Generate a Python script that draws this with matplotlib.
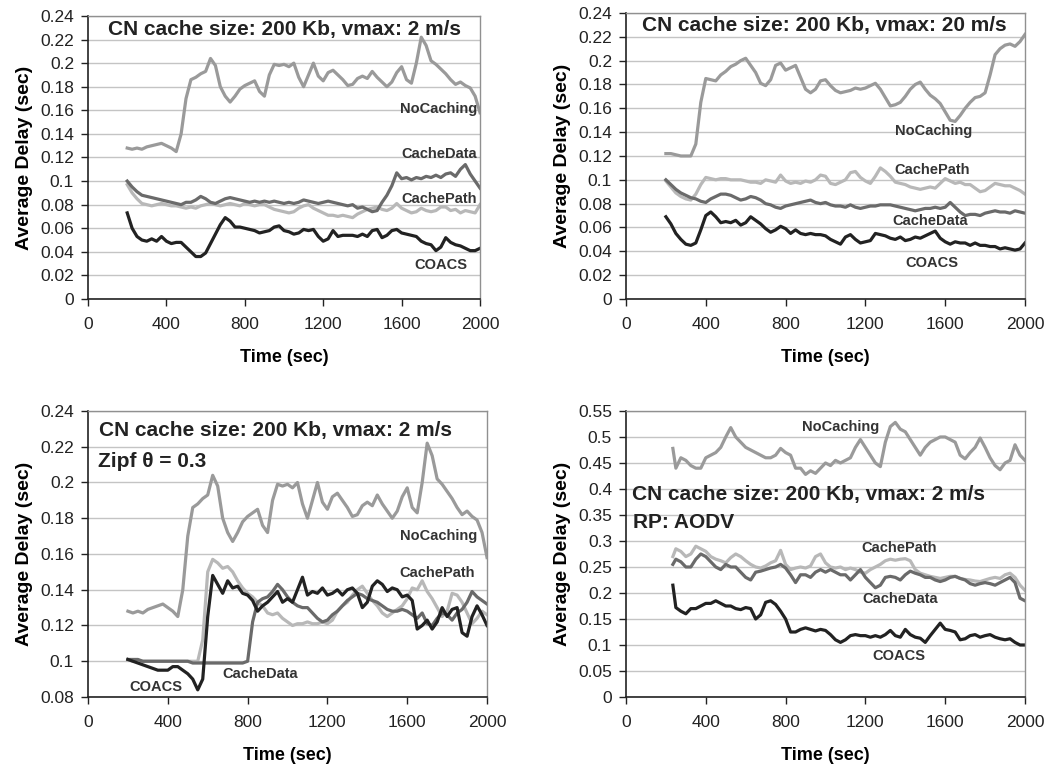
import numpy as np
import matplotlib
matplotlib.use("Agg")
import matplotlib.pyplot as plt
from matplotlib.ticker import FuncFormatter

plt.rcParams['font.family'] = ['Liberation Sans', 'DejaVu Sans']

# time grids (sec)
t_main = list(range(200, 2001, 25))
t_aodv = [235] + list(range(250, 2001, 25))

# ---- panel 1: vmax 2 m/s ----
p1_nocache = [0.128, 0.127, 0.128, 0.127, 0.129, 0.130, 0.131, 0.132,
              0.130, 0.128, 0.125, 0.140, 0.170, 0.186, 0.188, 0.191,
              0.193, 0.204, 0.198, 0.180, 0.172, 0.167, 0.172, 0.178,
              0.181, 0.183, 0.185, 0.176, 0.172, 0.190, 0.199, 0.198,
              0.199, 0.197, 0.200, 0.188, 0.180, 0.190, 0.200, 0.189,
              0.185, 0.192, 0.194, 0.190, 0.186, 0.181, 0.182, 0.187,
              0.189, 0.187, 0.193, 0.188, 0.184, 0.180, 0.184, 0.192,
              0.197, 0.186, 0.183, 0.200, 0.222, 0.215, 0.202, 0.199,
              0.195, 0.191, 0.186, 0.182, 0.184, 0.181, 0.179, 0.172,
              0.158]
p1_cachedata = [0.100, 0.095, 0.091, 0.088, 0.087, 0.086, 0.085, 0.084,
                0.083, 0.082, 0.081, 0.080, 0.082, 0.082, 0.084, 0.087,
                0.085, 0.082, 0.081, 0.083, 0.085, 0.086, 0.085, 0.084,
                0.083, 0.082, 0.083, 0.082, 0.083, 0.082, 0.083, 0.082,
                0.081, 0.082, 0.081, 0.082, 0.084, 0.083, 0.082, 0.081,
                0.082, 0.083, 0.082, 0.081, 0.080, 0.079, 0.080, 0.077,
                0.078, 0.076, 0.074, 0.075, 0.082, 0.088, 0.096, 0.107,
                0.102, 0.103, 0.101, 0.103, 0.102, 0.104, 0.103, 0.105,
                0.103, 0.106, 0.107, 0.104, 0.110, 0.114, 0.106, 0.100,
                0.094]
p1_cachepath = [0.097, 0.090, 0.085, 0.081, 0.080, 0.079, 0.080, 0.081,
                0.080, 0.079, 0.079, 0.078, 0.077, 0.078, 0.077, 0.079,
                0.080, 0.081, 0.080, 0.079, 0.080, 0.081, 0.080, 0.079,
                0.081, 0.080, 0.079, 0.080, 0.080, 0.078, 0.076, 0.075,
                0.074, 0.073, 0.074, 0.077, 0.079, 0.080, 0.077, 0.075,
                0.073, 0.071, 0.071, 0.070, 0.071, 0.070, 0.069, 0.072,
                0.074, 0.076, 0.077, 0.078, 0.076, 0.075, 0.077, 0.081,
                0.077, 0.075, 0.073, 0.074, 0.077, 0.075, 0.074, 0.075,
                0.078, 0.078, 0.075, 0.076, 0.073, 0.075, 0.074, 0.073,
                0.080]
p1_coacs = [0.073, 0.060, 0.053, 0.050, 0.049, 0.051, 0.049, 0.053,
            0.049, 0.047, 0.048, 0.048, 0.044, 0.040, 0.036, 0.036,
            0.039, 0.047, 0.055, 0.063, 0.069, 0.066, 0.061, 0.061,
            0.060, 0.059, 0.058, 0.056, 0.057, 0.058, 0.061, 0.062,
            0.058, 0.057, 0.055, 0.056, 0.059, 0.058, 0.059, 0.053,
            0.049, 0.051, 0.058, 0.053, 0.054, 0.054, 0.054, 0.053,
            0.055, 0.053, 0.058, 0.059, 0.052, 0.054, 0.058, 0.059,
            0.056, 0.055, 0.054, 0.053, 0.049, 0.047, 0.046, 0.041,
            0.044, 0.052, 0.048, 0.046, 0.045, 0.043, 0.041, 0.041,
            0.043]

# ---- panel 2: vmax 20 m/s ----
p2_nocache = [0.122, 0.122, 0.121, 0.120, 0.120, 0.120, 0.130, 0.165,
              0.185, 0.184, 0.183, 0.188, 0.191, 0.195, 0.197, 0.200,
              0.202, 0.196, 0.190, 0.181, 0.179, 0.184, 0.196, 0.198,
              0.192, 0.194, 0.196, 0.186, 0.176, 0.173, 0.176, 0.183,
              0.184, 0.179, 0.175, 0.173, 0.174, 0.175, 0.177, 0.176,
              0.177, 0.179, 0.181, 0.176, 0.169, 0.162, 0.163, 0.165,
              0.170, 0.176, 0.180, 0.182, 0.176, 0.171, 0.168, 0.164,
              0.157, 0.150, 0.149, 0.154, 0.160, 0.165, 0.169, 0.170,
              0.173, 0.188, 0.205, 0.210, 0.213, 0.214, 0.212, 0.216,
              0.222]
p2_cachepath = [0.099, 0.094, 0.089, 0.086, 0.084, 0.083, 0.088, 0.096,
                0.102, 0.101, 0.100, 0.101, 0.101, 0.100, 0.100, 0.100,
                0.099, 0.098, 0.098, 0.097, 0.100, 0.099, 0.098, 0.104,
                0.099, 0.097, 0.098, 0.097, 0.099, 0.098, 0.100, 0.104,
                0.103, 0.097, 0.096, 0.098, 0.100, 0.106, 0.107, 0.102,
                0.099, 0.097, 0.103, 0.110, 0.107, 0.103, 0.098, 0.097,
                0.096, 0.094, 0.093, 0.092, 0.093, 0.094, 0.093, 0.097,
                0.101, 0.099, 0.097, 0.098, 0.096, 0.096, 0.093, 0.090,
                0.091, 0.094, 0.097, 0.096, 0.095, 0.095, 0.093, 0.091,
                0.088]
p2_cachedata = [0.100, 0.096, 0.092, 0.089, 0.087, 0.085, 0.084, 0.082,
                0.081, 0.084, 0.086, 0.088, 0.088, 0.087, 0.085, 0.083,
                0.084, 0.086, 0.085, 0.083, 0.080, 0.079, 0.077, 0.076,
                0.078, 0.079, 0.080, 0.081, 0.082, 0.083, 0.081, 0.080,
                0.081, 0.079, 0.078, 0.078, 0.077, 0.079, 0.077, 0.076,
                0.077, 0.078, 0.078, 0.079, 0.079, 0.079, 0.078, 0.077,
                0.076, 0.075, 0.074, 0.075, 0.076, 0.076, 0.077, 0.076,
                0.077, 0.081, 0.077, 0.073, 0.070, 0.071, 0.071, 0.070,
                0.072, 0.073, 0.074, 0.073, 0.073, 0.072, 0.074, 0.073,
                0.072]
p2_coacs = [0.069, 0.063, 0.055, 0.050, 0.046, 0.045, 0.047, 0.058,
            0.070, 0.073, 0.069, 0.064, 0.065, 0.064, 0.066, 0.062,
            0.064, 0.069, 0.066, 0.063, 0.059, 0.056, 0.058, 0.061,
            0.059, 0.055, 0.058, 0.055, 0.054, 0.055, 0.054, 0.054,
            0.053, 0.050, 0.048, 0.046, 0.052, 0.054, 0.050, 0.047,
            0.048, 0.049, 0.055, 0.054, 0.053, 0.051, 0.050, 0.052,
            0.049, 0.050, 0.052, 0.051, 0.053, 0.055, 0.057, 0.051,
            0.048, 0.046, 0.048, 0.047, 0.047, 0.045, 0.047, 0.045,
            0.045, 0.044, 0.044, 0.042, 0.043, 0.042, 0.041, 0.042,
            0.047]

# ---- panel 3: Zipf theta = 0.3 ----
p3_nocache = p1_nocache
p3_cachepath = [0.101, 0.100, 0.100, 0.100, 0.100, 0.100, 0.100, 0.100,
                0.100, 0.100, 0.100, 0.100, 0.100, 0.100, 0.100, 0.112,
                0.150, 0.157, 0.155, 0.152, 0.153, 0.150, 0.145, 0.141,
                0.138, 0.136, 0.133, 0.131, 0.127, 0.126, 0.127, 0.124,
                0.122, 0.120, 0.121, 0.121, 0.122, 0.121, 0.121, 0.122,
                0.121, 0.123, 0.128, 0.131, 0.133, 0.137, 0.140, 0.142,
                0.138, 0.134, 0.131, 0.127, 0.125, 0.127, 0.129, 0.131,
                0.135, 0.141, 0.140, 0.145, 0.139, 0.135, 0.130, 0.125,
                0.128, 0.138, 0.137, 0.133, 0.127, 0.121, 0.124, 0.128,
                0.126]
p3_cachedata = [0.101, 0.101, 0.101, 0.100, 0.100, 0.100, 0.100, 0.100,
                0.100, 0.100, 0.100, 0.100, 0.100, 0.099, 0.099, 0.099,
                0.099, 0.099, 0.099, 0.099, 0.099, 0.099, 0.099, 0.099,
                0.100, 0.122, 0.133, 0.135, 0.136, 0.139, 0.143, 0.140,
                0.136, 0.133, 0.131, 0.130, 0.130, 0.127, 0.124, 0.122,
                0.123, 0.126, 0.128, 0.131, 0.134, 0.136, 0.138, 0.137,
                0.135, 0.134, 0.133, 0.131, 0.129, 0.128, 0.128, 0.129,
                0.128, 0.126, 0.124, 0.127, 0.121, 0.120, 0.124, 0.127,
                0.126, 0.123, 0.127, 0.129, 0.133, 0.139, 0.136, 0.134,
                0.132]
p3_coacs = [0.101, 0.100, 0.099, 0.098, 0.097, 0.096, 0.095, 0.095,
            0.095, 0.097, 0.097, 0.095, 0.093, 0.090, 0.084, 0.090,
            0.125, 0.148, 0.143, 0.138, 0.145, 0.141, 0.142, 0.138,
            0.137, 0.134, 0.128, 0.131, 0.133, 0.136, 0.139, 0.133,
            0.135, 0.133, 0.140, 0.147, 0.137, 0.139, 0.138, 0.141,
            0.137, 0.138, 0.140, 0.137, 0.140, 0.141, 0.138, 0.130,
            0.133, 0.142, 0.145, 0.143, 0.139, 0.141, 0.140, 0.136,
            0.137, 0.134, 0.118, 0.120, 0.123, 0.118, 0.122, 0.130,
            0.125, 0.129, 0.130, 0.116, 0.114, 0.125, 0.131, 0.126,
            0.120]

# ---- panel 4: routing protocol AODV ----
p4_nocache = [0.478,
              0.440, 0.460, 0.455, 0.445, 0.440, 0.440, 0.460, 0.465,
              0.470, 0.480, 0.500, 0.518, 0.500, 0.490, 0.480, 0.475,
              0.470, 0.465, 0.460, 0.460, 0.465, 0.478, 0.470, 0.465,
              0.440, 0.440, 0.428, 0.435, 0.430, 0.440, 0.450, 0.445,
              0.455, 0.450, 0.455, 0.460, 0.480, 0.495, 0.480, 0.465,
              0.450, 0.443, 0.490, 0.520, 0.528, 0.515, 0.510, 0.495,
              0.480, 0.465, 0.480, 0.490, 0.495, 0.500, 0.500, 0.495,
              0.490, 0.465, 0.458, 0.470, 0.480, 0.498, 0.480, 0.460,
              0.445, 0.437, 0.450, 0.455, 0.485, 0.465, 0.455]
p4_cachepath = [0.270,
                0.285, 0.280, 0.270, 0.275, 0.290, 0.285, 0.280, 0.270,
                0.265, 0.262, 0.258, 0.268, 0.275, 0.270, 0.262, 0.255,
                0.250, 0.248, 0.252, 0.258, 0.262, 0.282, 0.255, 0.245,
                0.248, 0.250, 0.248, 0.252, 0.270, 0.275, 0.258, 0.250,
                0.248, 0.250, 0.245, 0.248, 0.245, 0.240, 0.238, 0.245,
                0.250, 0.255, 0.262, 0.265, 0.263, 0.265, 0.266, 0.262,
                0.245, 0.238, 0.235, 0.232, 0.230, 0.228, 0.230, 0.232,
                0.232, 0.228, 0.226, 0.225, 0.223, 0.222, 0.225, 0.228,
                0.230, 0.228, 0.235, 0.238, 0.230, 0.215, 0.205]
p4_cachedata = [0.255,
                0.265, 0.260, 0.250, 0.250, 0.265, 0.275, 0.270, 0.260,
                0.250, 0.245, 0.255, 0.250, 0.250, 0.240, 0.230, 0.225,
                0.240, 0.242, 0.245, 0.248, 0.250, 0.255, 0.248, 0.235,
                0.220, 0.235, 0.235, 0.230, 0.240, 0.245, 0.240, 0.245,
                0.240, 0.235, 0.235, 0.225, 0.235, 0.245, 0.230, 0.220,
                0.210, 0.215, 0.230, 0.232, 0.230, 0.225, 0.235, 0.242,
                0.238, 0.235, 0.230, 0.230, 0.225, 0.222, 0.225, 0.230,
                0.232, 0.228, 0.225, 0.218, 0.215, 0.218, 0.220, 0.218,
                0.215, 0.220, 0.225, 0.230, 0.220, 0.190, 0.185]
p4_coacs = [0.215,
            0.172, 0.165, 0.160, 0.170, 0.170, 0.175, 0.180, 0.180,
            0.185, 0.180, 0.175, 0.175, 0.170, 0.168, 0.172, 0.170,
            0.150, 0.158, 0.182, 0.185, 0.178, 0.165, 0.150, 0.125,
            0.125, 0.130, 0.133, 0.130, 0.127, 0.130, 0.128, 0.120,
            0.110, 0.105, 0.110, 0.118, 0.120, 0.118, 0.118, 0.115,
            0.118, 0.115, 0.120, 0.128, 0.118, 0.115, 0.130, 0.120,
            0.115, 0.113, 0.105, 0.118, 0.130, 0.142, 0.130, 0.128,
            0.125, 0.110, 0.112, 0.118, 0.120, 0.115, 0.118, 0.120,
            0.115, 0.112, 0.110, 0.112, 0.105, 0.100, 0.100]

xticks = [0, 400, 800, 1200, 1600, 2000]

# colours of the series
C_NOCACHE = '#9a9a9a'
C_PATH = '#b8b8b8'
C_DATA = '#6a6a6a'
C_COACS = '#222222'


def setup(ax, ylim, ystep):
    ax.set_xlim(0, 2000)
    ax.set_ylim(*ylim)
    ax.set_xticks(xticks)
    ax.set_yticks(np.arange(ylim[0], ylim[1] + ystep / 2, ystep))
    ax.yaxis.set_major_formatter(FuncFormatter(lambda v, p: f"{round(v, 3):g}"))
    ax.yaxis.grid(True, color='#c4c4c4', lw=1.0)
    ax.set_axisbelow(True)
    ax.tick_params(direction='out', length=5, width=1, labelsize=12.5, colors='#222222')
    ax.tick_params(axis='y', pad=5)
    ax.tick_params(axis='x', pad=8)
    for s in ['left', 'bottom']:
        ax.spines[s].set_color('#222222')
        ax.spines[s].set_linewidth(1.2)
    for s in ['top', 'right']:
        ax.spines[s].set_color('#909090')
        ax.spines[s].set_linewidth(1.0)
    ax.set_xlabel('Time (sec)', fontsize=13, fontweight='bold', labelpad=12)
    ax.set_ylabel('Average Delay (sec)', fontsize=14, fontweight='bold', labelpad=5)


def lab(ax, x, y, s):
    ax.text(x, y, s, ha='center', va='center', fontsize=10.5,
            fontweight='bold', color='#333333')


def big(ax, x, y, s, ha='center'):
    ax.text(x, y, s, ha=ha, va='center', fontsize=15,
            fontweight='bold', color='#222222')


fig = plt.figure(figsize=(10.44, 7.76), dpi=100)
ax1 = fig.add_axes([0.0843, 0.6147, 0.3755, 0.3647])
ax2 = fig.add_axes([0.5996, 0.6147, 0.3822, 0.3686])
ax3 = fig.add_axes([0.0843, 0.1018, 0.3822, 0.3686])
ax4 = fig.add_axes([0.5996, 0.1018, 0.3822, 0.3686])

LW = 2.3

# panel 1
setup(ax1, (0, 0.24), 0.02)
ax1.plot(t_main, p1_nocache, color=C_NOCACHE, lw=LW)
ax1.plot(t_main, p1_cachepath, color=C_PATH, lw=LW)
ax1.plot(t_main, p1_cachedata, color=C_DATA, lw=LW)
ax1.plot(t_main, p1_coacs, color=C_COACS, lw=LW)
big(ax1, 1000, 0.2287, 'CN cache size: 200 Kb, vmax: 2 m/s')
lab(ax1, 1790, 0.161, 'NoCaching')
lab(ax1, 1790, 0.123, 'CacheData')
lab(ax1, 1790, 0.0848, 'CachePath')
lab(ax1, 1800, 0.0288, 'COACS')

# panel 2
setup(ax2, (0, 0.24), 0.02)
ax2.plot(t_main, p2_nocache, color=C_NOCACHE, lw=LW)
ax2.plot(t_main, p2_cachepath, color=C_PATH, lw=LW)
ax2.plot(t_main, p2_cachedata, color=C_DATA, lw=LW)
ax2.plot(t_main, p2_coacs, color=C_COACS, lw=LW)
big(ax2, 992, 0.2294, 'CN cache size: 200 Kb, vmax: 20 m/s')
lab(ax2, 1543, 0.1407, 'NoCaching')
lab(ax2, 1535, 0.1085, 'CachePath')
lab(ax2, 1527, 0.0652, 'CacheData')
lab(ax2, 1532, 0.0302, 'COACS')

# panel 3
setup(ax3, (0.08, 0.24), 0.02)
ax3.plot(t_main, p3_nocache, color=C_NOCACHE, lw=LW)
ax3.plot(t_main, p3_cachepath, color=C_PATH, lw=LW)
ax3.plot(t_main, p3_cachedata, color=C_DATA, lw=LW)
ax3.plot(t_main, p3_coacs, color=C_COACS, lw=LW)
big(ax3, 939, 0.2292, 'CN cache size: 200 Kb, vmax: 2 m/s')
big(ax3, 50, 0.2117, 'Zipf θ = 0.3', ha='left')
lab(ax3, 1758, 0.170, 'NoCaching')
lab(ax3, 1750, 0.1495, 'CachePath')
lab(ax3, 864, 0.0927, 'CacheData')
lab(ax3, 338, 0.0858, 'COACS')

# panel 4
setup(ax4, (0, 0.55), 0.05)
ax4.plot(t_aodv, p4_nocache, color=C_NOCACHE, lw=LW)
ax4.plot(t_aodv, p4_cachepath, color=C_PATH, lw=LW)
ax4.plot(t_aodv, p4_cachedata, color=C_DATA, lw=LW)
ax4.plot(t_aodv, p4_coacs, color=C_COACS, lw=LW)
big(ax4, 30, 0.39, 'CN cache size: 200 Kb, vmax: 2 m/s', ha='left')
big(ax4, 33, 0.336, 'RP: AODV', ha='left')
lab(ax4, 1075, 0.519, 'NoCaching')
lab(ax4, 1368, 0.286, 'CachePath')
lab(ax4, 1376, 0.189, 'CacheData')
lab(ax4, 1368, 0.079, 'COACS')

fig.savefig('out.png', dpi=100)
